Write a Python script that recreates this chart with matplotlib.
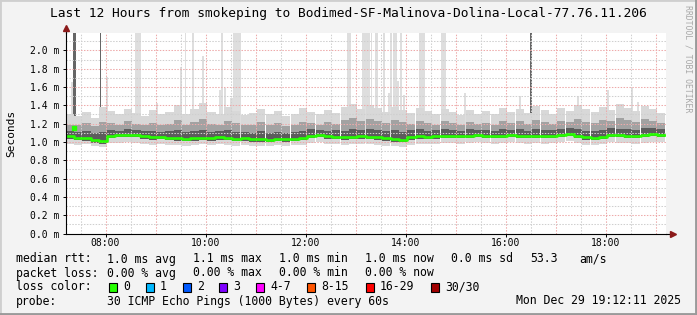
import matplotlib
matplotlib.use("Agg")
import matplotlib.pyplot as plt
from matplotlib.patches import Rectangle
from matplotlib.lines import Line2D
import numpy as np

# ---- data (times in hours of day, rtt in milliseconds) ----
start_hour = 7.2          # 07:12
step_hours = 10 / 60.0    # one smoke column every 10 minutes

rtt_median = [1.06, 1.045, 1.04, 1.02, 1.01, 1.07, 1.075, 1.08, 1.075, 1.06,
              1.05, 1.055, 1.045, 1.04, 1.035, 1.04, 1.045, 1.04, 1.05, 1.045,
              1.035, 1.04, 1.03, 1.03, 1.025, 1.035, 1.03, 1.035, 1.045, 1.07,
              1.075, 1.06, 1.055, 1.05, 1.055, 1.06, 1.055, 1.05, 1.04, 1.03,
              1.025, 1.05, 1.06, 1.055, 1.06, 1.065, 1.07, 1.065, 1.07, 1.075,
              1.07, 1.065, 1.07, 1.075, 1.07, 1.065, 1.07, 1.065, 1.07, 1.075,
              1.085, 1.07, 1.05, 1.045, 1.055, 1.08, 1.075, 1.07, 1.065, 1.075,
              1.085, 1.08]
smoke_min = [0.98, 0.97, 0.98, 0.96, 0.95, 0.99, 0.99, 1.00, 0.99, 0.98,
             0.97, 0.98, 0.97, 0.97, 0.96, 0.97, 0.98, 0.97, 0.98, 0.97,
             0.96, 0.97, 0.96, 0.96, 0.96, 0.97, 0.96, 0.97, 0.97, 0.99,
             1.00, 0.98, 0.98, 0.97, 0.98, 0.98, 0.98, 0.97, 0.96, 0.96,
             0.95, 0.97, 0.98, 0.98, 0.98, 0.99, 0.99, 0.98, 0.99, 1.00,
             0.99, 0.98, 0.99, 1.00, 0.99, 0.98, 0.99, 0.98, 0.99, 1.00,
             1.01, 0.99, 0.97, 0.97, 0.98, 1.00, 0.99, 0.99, 0.98, 0.99,
             1.00, 1.00]
smoke_q1 = [1.03, 1.02, 1.01, 0.99, 0.98, 1.04, 1.05, 1.05, 1.05, 1.03,
            1.02, 1.03, 1.02, 1.01, 1.01, 1.01, 1.02, 1.01, 1.02, 1.02,
            1.01, 1.01, 1.00, 1.00, 1.00, 1.01, 1.00, 1.01, 1.02, 1.04,
            1.05, 1.03, 1.03, 1.02, 1.03, 1.03, 1.03, 1.02, 1.01, 1.00,
            1.00, 1.02, 1.03, 1.03, 1.03, 1.04, 1.04, 1.04, 1.04, 1.05,
            1.04, 1.04, 1.04, 1.05, 1.04, 1.04, 1.04, 1.04, 1.04, 1.05,
            1.06, 1.04, 1.02, 1.02, 1.03, 1.05, 1.05, 1.04, 1.04, 1.05,
            1.06, 1.05]
smoke_q3 = [1.12, 1.11, 1.12, 1.10, 1.11, 1.13, 1.12, 1.14, 1.13, 1.12,
            1.12, 1.11, 1.12, 1.13, 1.11, 1.12, 1.13, 1.11, 1.12, 1.13,
            1.11, 1.11, 1.10, 1.12, 1.10, 1.11, 1.10, 1.11, 1.12, 1.14,
            1.13, 1.12, 1.13, 1.12, 1.14, 1.13, 1.14, 1.13, 1.12, 1.13,
            1.11, 1.13, 1.14, 1.12, 1.13, 1.14, 1.13, 1.12, 1.14, 1.13,
            1.13, 1.12, 1.14, 1.13, 1.14, 1.12, 1.14, 1.13, 1.13, 1.14,
            1.15, 1.14, 1.12, 1.12, 1.13, 1.15, 1.14, 1.14, 1.13, 1.15,
            1.15, 1.14]
smoke_p90 = [1.19, 1.18, 1.21, 1.17, 1.22, 1.21, 1.19, 1.23, 1.20, 1.18,
             1.21, 1.19, 1.20, 1.24, 1.19, 1.22, 1.25, 1.20, 1.19, 1.23,
             1.21, 1.18, 1.19, 1.22, 1.18, 1.21, 1.17, 1.19, 1.22, 1.21,
             1.19, 1.22, 1.20, 1.24, 1.26, 1.23, 1.25, 1.23, 1.21, 1.24,
             1.22, 1.20, 1.23, 1.21, 1.19, 1.23, 1.21, 1.18, 1.22, 1.20,
             1.21, 1.19, 1.23, 1.21, 1.23, 1.20, 1.24, 1.22, 1.20, 1.23,
             1.22, 1.25, 1.22, 1.21, 1.24, 1.23, 1.26, 1.24, 1.22, 1.25,
             1.23, 1.21]
smoke_max = [1.30, 1.28, 1.33, 1.26, 1.38, 1.34, 1.30, 1.36, 1.32, 1.28,
             1.35, 1.30, 1.33, 1.40, 1.31, 1.36, 1.42, 1.33, 1.30, 1.38,
             1.34, 1.29, 1.32, 1.36, 1.30, 1.34, 1.28, 1.31, 1.37, 1.33,
             1.30, 1.35, 1.32, 1.38, 1.41, 1.36, 1.40, 1.37, 1.33, 1.38,
             1.35, 1.32, 1.37, 1.34, 1.30, 1.36, 1.33, 1.29, 1.35, 1.31,
             1.34, 1.30, 1.37, 1.33, 1.36, 1.32, 1.39, 1.35, 1.31, 1.37,
             1.34, 1.40, 1.36, 1.33, 1.38, 1.35, 1.41, 1.37, 1.34, 1.39,
             1.36, 1.32]

# single high pings (start hour, end hour, highest rtt); 2.5 = off the top
spike_start = [7.30, 8.01, 8.59, 9.01, 9.49, 9.58, 9.73, 9.93, 10.27, 10.31,
               10.37, 10.48, 10.55, 12.83, 13.13, 13.30, 13.39, 13.55, 13.65,
               13.69, 13.75, 13.83, 13.89, 13.95, 14.27, 14.71, 15.17, 16.27,
               17.43, 18.03, 18.51, 18.63]
spike_end = [7.35, 8.05, 8.71, 9.05, 9.53, 9.61, 9.78, 9.97, 10.31, 10.35,
             10.41, 10.55, 10.71, 12.91, 13.29, 13.34, 13.45, 13.59, 13.69,
             13.73, 13.83, 13.87, 13.93, 13.99, 14.39, 14.81, 15.21, 16.31,
             17.47, 18.07, 18.55, 18.67]
spike_top = [1.66, 1.71, 2.5, 1.42, 1.82, 2.5, 2.5, 1.94, 1.57, 2.5,
             1.59, 1.48, 2.5, 2.5, 2.5, 2.5, 2.5, 2.5, 1.53,
             2.5, 2.5, 1.67, 2.5, 1.51, 2.5, 2.5, 1.53, 1.50,
             1.50, 1.57, 1.59, 1.44]
# columns where many pings were high
dense_start = [7.35, 7.88, 16.49]
dense_end = [7.40, 7.90, 16.52]
dense_top = [2.5, 2.5, 2.5]
first_sample = (7.37, 1.15)

rtt_stats = ["1.0 ms avg", "1.1 ms max", "1.0 ms min", "1.0 ms now",
             "0.0 ms sd", "53.3", "am/s"]
loss_stats = ["0.00 % avg", "0.00 % max", "0.00 % min", "0.00 % now"]
loss_names = ["0", "1", "2", "3", "4-7", "8-15", "16-29", "30/30"]
loss_colors = ["#26ff00", "#00b8ff", "#0059ff", "#7e00ff", "#ff00ff",
               "#ff5500", "#ff0000", "#a10000"]
x_ticks = [8, 10, 12, 14, 16, 18]
x_tick_labels = ["08:00", "10:00", "12:00", "14:00", "16:00", "18:00"]
y_ticks = [0.0, 0.2, 0.4, 0.6, 0.8, 1.0, 1.2, 1.4, 1.6, 1.8, 2.0]

title = "Last 12 Hours from smokeping to Bodimed-SF-Malinova-Dolina-Local-77.76.11.206"
probe_text = "30 ICMP Echo Pings (1000 Bytes) every 60s"
stamp = "Mon Dec 29 19:12:11 2025"

# ---- figure ----
W, H = 697, 315
MONO = "DejaVu Sans Mono"


def fx(x):
    return x / W


def fy(y):
    return 1 - y / H


fig = plt.figure(figsize=(W / 100, H / 100), dpi=100, facecolor="#f3f3f3")
ax = fig.add_axes([fx(65.5), fy(233.5), 600 / W, 200.5 / H], facecolor="white")

cols = start_hour + step_hours * np.arange(len(rtt_median))
ax.bar(spike_start, np.array(spike_top) - 1.0, bottom=1.0,
       width=np.array(spike_end) - np.array(spike_start), align="edge",
       color="#dedede", linewidth=0, zorder=1)
ax.bar(dense_start, np.array(dense_top) - 1.0, bottom=1.0,
       width=np.array(dense_end) - np.array(dense_start), align="edge",
       color="#666666", linewidth=0, zorder=1.5)
ax.bar(cols, np.array(smoke_max) - np.array(smoke_min), bottom=smoke_min,
       width=step_hours, align="edge", color="#d8d8d8", linewidth=0, zorder=2)
ax.bar(cols, np.array(smoke_p90) - np.array(smoke_q1), bottom=smoke_q1,
       width=step_hours, align="edge", color="#a2a2a2", linewidth=0, zorder=2.1)
ax.bar(cols, np.array(smoke_q3) - np.array(smoke_q1), bottom=smoke_q1,
       width=step_hours, align="edge", color="#5c5c5c", linewidth=0, zorder=2.2)

# grid, drawn over the smoke like rrdtool does
dots = (0, (1.4, 1.4))
for h in np.arange(7.5, 19.3, 0.5):
    major = abs(h - round(h)) < 1e-6
    ax.axvline(h, color="#eeaaaa" if major else "#cfcfcf", lw=0.75,
               linestyle=dots, zorder=3)
for v in np.arange(0.1, 2.15, 0.1):
    major = int(round(v * 10)) % 2 == 0
    ax.axhline(v, color="#eeaaaa" if major else "#cfcfcf", lw=0.75,
               linestyle=dots, zorder=3)

# median line
ax.step(np.append(cols, cols[-1] + step_hours), np.append(rtt_median, rtt_median[-1]),
        where="post", color=loss_colors[0], lw=1.9, zorder=4)
ax.plot([first_sample[0]], [first_sample[1]], marker="s", ms=2.2,
        color=loss_colors[0], zorder=4)

ax.set_xlim(start_hour, start_hour + 12)
ax.set_ylim(0, 2.19)
ax.set_xticks(x_ticks)
ax.set_xticklabels(x_tick_labels, family=MONO, fontsize=7)
ax.set_yticks(y_ticks)
ax.set_yticklabels(["%.1f m" % v for v in y_ticks], family=MONO, fontsize=7)
ax.tick_params(axis="x", length=2, width=0.7, pad=1.5)
ax.tick_params(axis="y", length=2, width=0.7, pad=2.5)
for s in ["top", "right"]:
    ax.spines[s].set_visible(False)
ax.spines["left"].set_linewidth(0.8)
ax.spines["bottom"].set_linewidth(0.8)
ax.spines["left"].set_zorder(5)
ax.spines["bottom"].set_zorder(5)

# axis arrows
ax.plot([0, 0], [1, 1.02], transform=ax.transAxes, color="black", lw=0.8, clip_on=False)
ax.plot([1, 1.01], [0, 0], transform=ax.transAxes, color="black", lw=0.8, clip_on=False)
ax.plot([0], [1.025], transform=ax.transAxes, marker="^", ms=4, color="#8b1a1a",
        clip_on=False, zorder=6)
ax.plot([1.012], [0], transform=ax.transAxes, marker=">", ms=4, color="#8b1a1a",
        clip_on=False, zorder=6)

# texts
fig.text(fx(348), fy(13), title, family=MONO, fontsize=9.3, ha="center", va="center")
fig.text(fx(11), fy(133), "Seconds", family=MONO, fontsize=8, rotation=90,
         ha="center", va="center")
fig.text(fx(688), fy(5), "RRDTOOL / TOBI OETIKER", family=MONO, fontsize=5.9,
         rotation=270, ha="center", va="top", color="#a8a8a8")

LEG = 8.3
rows_y = [259, 273, 287, 301]
fig.text(fx(16), fy(rows_y[0]), "median rtt:", family=MONO, fontsize=LEG, va="center")
for x, s in zip([107, 193, 279, 365, 451, 530, 579], rtt_stats):
    fig.text(fx(x), fy(rows_y[0]), s, family=MONO, fontsize=LEG, va="center")
fig.text(fx(16), fy(rows_y[1]), "packet loss:", family=MONO, fontsize=LEG, va="center")
for x, s in zip([107, 193, 279, 365], loss_stats):
    fig.text(fx(x), fy(rows_y[1]), s, family=MONO, fontsize=LEG, va="center")
fig.text(fx(16), fy(rows_y[2]), "loss color:", family=MONO, fontsize=LEG, va="center")
for x, name, c in zip([109, 146, 183, 219, 256, 307, 366, 431], loss_names, loss_colors):
    fig.add_artist(Rectangle((fx(x), fy(rows_y[2] + 4.5)), 8 / W, 9 / H,
                             transform=fig.transFigure, facecolor=c,
                             edgecolor="black", lw=0.8))
    fig.text(fx(x + 14), fy(rows_y[2]), name, family=MONO, fontsize=LEG, va="center")
fig.text(fx(16), fy(rows_y[3]), "probe:", family=MONO, fontsize=LEG, va="center")
fig.text(fx(107), fy(rows_y[3]), probe_text, family=MONO, fontsize=LEG, va="center")
fig.text(fx(681), fy(rows_y[3]), stamp, family=MONO, fontsize=LEG, va="center", ha="right")

# 3d frame around the canvas
fig.add_artist(Line2D([0, 0, 1], [0, 1, 1], transform=fig.transFigure,
                      color="#cfcfcf", lw=2))
fig.add_artist(Line2D([0, 1, 1], [0, 0, 1], transform=fig.transFigure,
                      color="#9a9a9a", lw=3.5))

fig.savefig("out.png", dpi=100, facecolor=fig.get_facecolor())
